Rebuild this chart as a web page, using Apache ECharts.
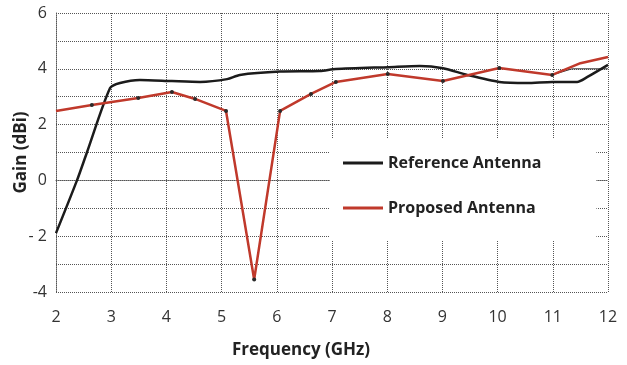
<!DOCTYPE html>
<html>
<head>
<meta charset="utf-8">
<script src="https://cdn.jsdelivr.net/npm/echarts@6/dist/echarts.min.js"></script>
<style>
  html, body { margin: 0; padding: 0; background: #fff; }
  #chart { width: 627px; height: 365px; }
</style>
</head>
<body>
<div id="chart"></div>
<script>
// Gain vs frequency for the two antennas
const refFreq = [2.0, 2.38, 2.56, 2.98, 3.16, 3.52, 4.1, 4.61, 5.1, 5.33, 6.06, 6.78, 7.07, 8.03, 8.59, 9.01, 9.45, 10.03, 10.53, 10.99, 11.44, 11.62, 12.0];
const refGain = [-1.89, 0.0, 1.0, 3.31, 3.49, 3.6, 3.56, 3.53, 3.63, 3.78, 3.9, 3.92, 3.99, 4.06, 4.1, 4.02, 3.78, 3.53, 3.49, 3.53, 3.53, 3.7, 4.14];

const propFreq = [2.0, 2.65, 3.49, 4.1, 4.52, 5.08, 5.59, 6.06, 6.62, 7.07, 8.01, 9.01, 10.03, 10.99, 11.5, 12.0];
const propGain = [2.49, 2.7, 2.95, 3.17, 2.92, 2.49, -3.55, 2.49, 3.1, 3.53, 3.81, 3.56, 4.03, 3.78, 4.2, 4.42];
const propMarked = [false, true, true, true, true, true, true, true, true, true, true, true, true, true, false, false];

// thin trace between 11 and 12 GHz
const traceFreq = [10.99, 11.35, 12.0];
const traceGain = [3.78, 4.0, 4.0];

const yTicks = { '6': '6', '4': '4', '2': '2', '0': '0', '-2': '- 2', '-4': '-4' };

const refColor = '#1b1b1b';
const propColor = '#c0392b';

const zip = (xs, ys) => xs.map((x, i) => [x, ys[i]]);

const chart = echarts.init(document.getElementById('chart'));
chart.setOption({
  animation: false,
  textStyle: { fontFamily: 'Open Sans' },
  grid: { left: 56, right: 19, top: 13, bottom: 73, containLabel: false, outerBoundsMode: 'none' },
  xAxis: {
    type: 'value', min: 2, max: 12, interval: 1,
    name: 'Frequency (GHz)', nameLocation: 'middle', nameGap: 50,
    nameTextStyle: { fontSize: 17, fontWeight: 'bold', color: '#222', padding: [0, 62, 0, 0] },
    axisLine: { show: true, lineStyle: { color: '#555', type: 'dotted', width: 1 } },
    axisTick: { show: false },
    axisLabel: { fontSize: 16, color: '#333', margin: 17 },
    splitLine: { show: true, lineStyle: { color: '#555', type: 'dotted', width: 1 } }
  },
  yAxis: {
    type: 'value', min: -4, max: 6, interval: 1,
    name: 'Gain (dBi)', nameLocation: 'middle', nameGap: 26, nameMoveOverlap: false,
    nameTextStyle: { fontSize: 17, fontWeight: 'bold', color: '#222' },
    axisLine: { show: true, lineStyle: { color: '#555', type: 'dotted', width: 1 } },
    axisTick: { show: false },
    axisLabel: {
      fontSize: 16, color: '#333', margin: 9,
      formatter: v => (yTicks[String(v)] !== undefined ? yTicks[String(v)] : '')
    },
    splitLine: { show: true, lineStyle: { color: '#555', type: 'dotted', width: 1 } }
  },
  legend: {
    orient: 'vertical', left: 330, top: 138,
    backgroundColor: '#fff',
    padding: [17, 55, 24, 13],
    itemGap: 29, itemWidth: 40, itemHeight: 3,
    icon: 'rect',
    textStyle: { fontSize: 16, fontWeight: 'bold', color: '#222' },
    data: [
      { name: 'Reference Antenna', itemStyle: { color: refColor } },
      { name: 'Proposed Antenna', itemStyle: { color: propColor } }
    ]
  },
  series: [
    {
      name: 'Reference Antenna', type: 'line', smooth: 0.25,
      showSymbol: false, symbol: 'none',
      color: refColor,
      lineStyle: { color: refColor, width: 2.5 },
      data: zip(refFreq, refGain), z: 3
    },
    {
      name: 'trace', type: 'line', symbol: 'none',
      lineStyle: { color: '#333', width: 1 },
      data: zip(traceFreq, traceGain), z: 2
    },
    {
      name: 'Proposed Antenna', type: 'line',
      color: propColor,
      symbol: 'circle', symbolSize: 4,
      itemStyle: { color: '#2a2a2a' },
      lineStyle: { color: propColor, width: 2.5 },
      data: propFreq.map((f, i) => ({
        value: [f, propGain[i]],
        symbol: propMarked[i] ? 'circle' : 'none'
      })),
      z: 4
    }
  ]
});
</script>
</body>
</html>
